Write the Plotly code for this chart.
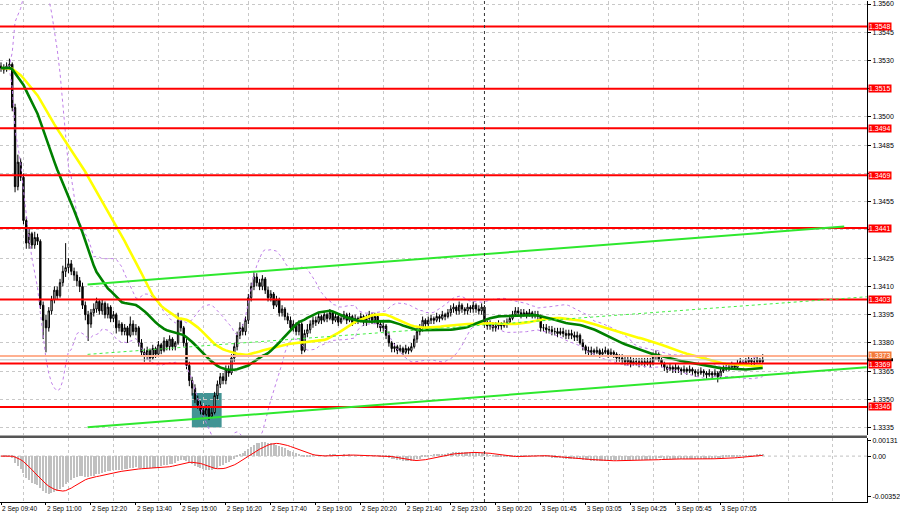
import numpy as np
import pandas as pd
import plotly.graph_objects as go

# ---------------- data (prices stored as pips above 1.3300) ----------------
BASE = 1.3300
first_open_pips = 227
close_pips = [
    226,225,227,228,205,163,176,168,145,133,
    138,132,136,134,100,92,88,97,103,108,
    105,112,118,120,122,118,116,113,110,100,
    95,90,96,98,102,97,101,95,99,93,
    95,88,90,86,88,84,90,86,88,80,
    75,73,76,72,77,74,79,76,81,78,
    82,78,80,92,88,80,68,60,56,50,
    47,44,42,45,41,43,52,58,62,60,
    66,64,72,78,84,88,86,92,104,110,
    115,112,110,114,108,104,106,100,103,96,
    98,94,92,88,90,86,90,76,85,87,
    90,92,91,94,92,95,93,96,92,94,
    91,93,95,92,94,91,93,92,94,91,
    93,95,92,94,90,88,89,84,80,77,
    78,76,77,75,77,76,78,82,86,88,
    92,90,92,93,92,94,93,95,94,96,
    98,99,97,100,98,97,99,98,100,98,
    97,99,91,89,90,88,89,90,89,90,
    91,93,95,97,96,95,96,95,96,95,
    95,94,88,88,87,87,86,86,85,86,
    85,84,85,84,83,84,80,78,76,75,
    76,75,76,74,75,76,74,75,74,72,
    72,71,70,71,69,70,70,69,70,69,
    70,69,73,74,71,69,67,66,67,66,
    67,66,65,66,65,66,65,64,64,65,
    64,63,64,63,64,62,65,66,67,67,
    68,67,69,70,69,70,71,70,70,71,
    70,71,
]
high_pips = [
    229,228,229,231,229,207,180,178,170,147,
    141,139,139,138,135,102,95,99,105,110,
    110,114,121,133,125,124,120,118,115,112,
    102,97,98,101,104,103,103,102,101,100,
    97,96,92,91,90,89,94,92,90,89,
    82,77,78,77,79,78,81,80,83,82,
    84,83,81,96,93,89,82,70,62,58,
    52,49,46,47,47,46,54,60,64,64,
    68,68,74,80,86,91,90,94,106,112,
    118,117,114,116,115,110,108,107,105,104,
    100,99,96,94,92,91,92,91,87,90,
    92,94,94,96,95,97,96,98,97,96,
    95,95,97,96,96,95,95,94,96,95,
    95,97,96,96,95,92,91,90,86,81,
    80,79,79,78,79,78,80,84,88,90,
    94,93,94,95,94,96,95,97,96,98,
    100,101,100,102,101,99,101,100,102,101,
    100,101,100,92,92,91,91,92,91,92,
    93,95,97,99,99,98,98,97,98,97,
    97,97,95,90,90,89,89,88,88,88,
    88,87,87,87,86,86,85,82,79,78,
    78,77,78,77,77,78,77,77,76,75,
    74,74,73,73,73,72,72,72,72,72,
    72,72,75,76,75,72,70,68,69,68,
    69,68,67,68,67,68,67,66,66,67,
    66,65,66,65,66,65,67,68,69,69,
    70,69,71,72,71,72,73,72,72,73,
    72,74,
]
low_pips = [
    224,223,224,225,203,160,161,166,143,130,
    130,130,130,132,98,82,75,86,95,101,
    103,104,110,115,117,116,113,110,107,98,
    92,81,88,94,96,95,95,93,93,91,
    91,85,86,84,84,80,83,84,84,78,
    73,70,71,70,71,72,73,74,75,76,
    76,76,76,79,86,78,66,57,52,48,
    45,42,40,41,39,40,42,50,56,58,
    58,62,63,70,76,82,84,84,90,102,
    108,110,108,108,106,102,102,98,99,94,
    94,92,90,86,86,84,84,74,75,83,
    85,88,89,90,90,91,91,92,90,91,
    89,90,92,90,91,89,90,90,91,89,
    89,91,90,90,88,86,86,82,78,75,
    75,74,75,73,74,74,75,77,80,84,
    86,88,88,90,90,91,91,92,92,93,
    94,96,95,95,96,95,95,96,96,96,
    95,95,90,87,87,86,86,87,87,88,
    88,90,92,94,94,93,94,93,94,93,
    93,92,86,86,85,85,84,84,83,84,
    83,82,82,82,81,81,79,76,74,73,
    73,73,74,72,73,74,72,73,72,70,
    70,69,68,68,67,68,68,67,68,67,
    68,67,68,71,70,67,65,64,65,64,
    64,64,63,64,63,64,63,62,62,63,
    62,61,62,61,62,59,61,64,65,65,
    66,66,66,68,68,68,69,68,68,69,
    69,69,
]

time_labels = ["2 Sep 09:40", "2 Sep 11:00", "2 Sep 12:20", "2 Sep 13:40", "2 Sep 15:00",
               "2 Sep 16:20", "2 Sep 17:40", "2 Sep 19:00", "2 Sep 20:20", "2 Sep 21:40",
               "2 Sep 23:00", "3 Sep 00:20", "3 Sep 01:45", "3 Sep 03:05", "3 Sep 04:25",
               "3 Sep 05:45", "3 Sep 07:05"]
label_bars = [0, 16, 32, 48, 64, 80, 96, 112, 128, 144, 160, 176, 192, 208, 224, 240, 256]
day_separator_bar = 172

price_ticks = [1.3335, 1.3350, 1.3365, 1.3380, 1.3395, 1.3410, 1.3425, 1.3440, 1.3455,
               1.3470, 1.3485, 1.3500, 1.3515, 1.3530, 1.3545, 1.3560]
hidden_price_ticks = [1.3440, 1.3470, 1.3515]   # covered by the level tags in the original
red_levels = [1.3548, 1.3515, 1.3494, 1.3469, 1.3441, 1.3403, 1.3369, 1.3346]
salmon_level = 1.3373
bid_level = 1.3371
macd_ticks = [0.00131, 0.0, -0.00352]
macd_ticktext = ["0.00131", "0.00", "-0.00352"]

# drawn objects (bar index, price)
upper_channel = {"bars": [30.8, 300.0], "prices": [1.3411, 1.34418]}
lower_channel = {"bars": [30.8, 308.0], "prices": [1.33352, 1.33671]}
mid_channel = {"bars": [30.8, 308.0], "prices": [1.33739, 1.34045]}
box_bars = [67.9, 78.5]
box_prices = [1.3335, 1.33534]

# ---------------- derived series ----------------
c = BASE + np.array(close_pips) / 1e4
h = BASE + np.array(high_pips) / 1e4
l = BASE + np.array(low_pips) / 1e4
o = np.r_[BASE + first_open_pips / 1e4, c[:-1]]
idx = np.arange(len(c))


def warm(s, n):
    # indicator warm-up: history before the window is held at the first value
    return pd.Series(np.r_[np.full(n - 1, s[0]), s])


def sma(s, n):
    return warm(s, n).rolling(n).mean().values[n - 1:]


def sstd(s, n):
    return warm(s, n).rolling(n).std(ddof=0).values[n - 1:]


ma_green = sma(c, 30)
ma_yellow = sma(c, 50)
bb_mid = sma(c, 20)
bb_sd = sstd(c, 20)
bb_up = bb_mid + 2 * bb_sd
bb_dn = bb_mid - 2 * bb_sd
ema12 = pd.Series(c).ewm(span=12, adjust=False).mean().values
ema26 = pd.Series(c).ewm(span=26, adjust=False).mean().values
macd = ema12 - ema26
signal = sma(macd, 9)

# ---------------- figure ----------------
FONT = "Liberation Sans"
xr = [-0.354, 308.1]
main_dom = [(502 - 435) / 502, 1.0]
macd_dom = [0.0, (502 - 438) / 502]

fig = go.Figure()

fig.add_trace(go.Candlestick(
    x=idx, open=o, high=h, low=l, close=c,
    increasing=dict(fillcolor="white", line=dict(color="black", width=1)),
    decreasing=dict(fillcolor="black", line=dict(color="black", width=1)),
    whiskerwidth=0, xaxis="x", yaxis="y", showlegend=False, hoverinfo="skip"))

for band in (bb_up, bb_dn):
    fig.add_trace(go.Scatter(x=idx, y=band, mode="lines",
                             line=dict(color="#bf7fe8", width=1, dash="dot"),
                             xaxis="x", yaxis="y", showlegend=False, hoverinfo="skip"))
fig.add_trace(go.Scatter(x=idx, y=ma_yellow, mode="lines", line=dict(color="#ffff00", width=2.6),
                         xaxis="x", yaxis="y", showlegend=False, hoverinfo="skip"))
fig.add_trace(go.Scatter(x=idx, y=ma_green, mode="lines", line=dict(color="#008000", width=2.6),
                         xaxis="x", yaxis="y", showlegend=False, hoverinfo="skip"))

fig.add_trace(go.Bar(x=idx, y=macd, marker=dict(color="#c0c0c0", line=dict(width=0)), width=0.45,
                     xaxis="x2", yaxis="y2", showlegend=False, hoverinfo="skip"))
fig.add_trace(go.Scatter(x=idx, y=signal, mode="lines", line=dict(color="#ff0000", width=1),
                         xaxis="x2", yaxis="y2", showlegend=False, hoverinfo="skip"))

shapes = []
# teal box (behind candles)
shapes.append(dict(type="rect", xref="x", yref="y", x0=box_bars[0], x1=box_bars[1],
                   y0=box_prices[0], y1=box_prices[1], fillcolor="rgb(66,148,148)",
                   line=dict(width=0), layer="below"))
# horizontal levels
shapes.append(dict(type="line", xref="paper", yref="y", x0=0, x1=1, y0=bid_level, y1=bid_level,
                   line=dict(color="#c0c0c0", width=1), layer="above"))
shapes.append(dict(type="line", xref="paper", yref="y", x0=0, x1=1, y0=salmon_level, y1=salmon_level,
                   line=dict(color="#ffb090", width=2), layer="above"))
for lv in red_levels:
    shapes.append(dict(type="line", xref="paper", yref="y", x0=0, x1=1, y0=lv, y1=lv,
                       line=dict(color="#ff0000", width=2), layer="above"))
# bid marker (mostly covered by neighbouring tags in the original)
shapes.append(dict(type="line", xref="paper", yref="y", x0=1.001, x1=1.03, y0=bid_level, y1=bid_level,
                   line=dict(color="black", width=3), layer="above"))
# channel lines
for tl in (upper_channel, lower_channel):
    shapes.append(dict(type="line", xref="x", yref="y", x0=tl["bars"][0], x1=tl["bars"][1],
                       y0=tl["prices"][0], y1=tl["prices"][1],
                       line=dict(color="#2ee82e", width=2), layer="above"))
shapes.append(dict(type="line", xref="x", yref="y", x0=mid_channel["bars"][0], x1=mid_channel["bars"][1],
                   y0=mid_channel["prices"][0], y1=mid_channel["prices"][1],
                   line=dict(color="#44ee44", width=1, dash="dot"), layer="above"))
# day separator
shapes.append(dict(type="line", xref="x", yref="paper", x0=day_separator_bar, x1=day_separator_bar,
                   y0=0, y1=1, line=dict(color="#333333", width=1, dash="dot"), layer="above"))
# MACD zero line
shapes.append(dict(type="line", xref="paper", yref="y2", x0=0, x1=1, y0=0, y1=0,
                   line=dict(color="#c0c0c0", width=1, dash="dot"), layer="below"))
# panel separator
sep_y = (502 - 436.5) / 502
shapes.append(dict(type="line", xref="paper", yref="paper", x0=0, x1=1, y0=sep_y, y1=sep_y,
                   line=dict(color="#555555", width=2.5), layer="above"))

annotations = []


def tag(y, text, bg, fg="white", yshift=0):
    annotations.append(dict(xref="paper", yref="y", x=1, y=y, xanchor="left", yanchor="middle",
                            xshift=1, yshift=yshift, text=text, showarrow=False, bgcolor=bg,
                            borderpad=0, font=dict(family=FONT, size=7, color=fg)))


tag(salmon_level, f"{salmon_level:.4f}", "#f47a3c", yshift=1)
for lv in red_levels:
    tag(lv, f"{lv:.4f}", "#ff0000", yshift=-1 if lv == 1.3369 else 0)

price_ticktext = ["" if any(abs(v - hv) < 1e-9 for hv in hidden_price_ticks) else f"{v:.4f}"
                  for v in price_ticks]

grid_minor = dict(tick0=8, dtick=16, showgrid=True, gridcolor="#c8c8c8", griddash="dot", gridwidth=1)

fig.update_layout(
    width=900, height=517, margin=dict(l=0, r=29, t=0, b=15),
    paper_bgcolor="white", plot_bgcolor="white", bargap=0,
    font=dict(family=FONT, size=7, color="black"),
    xaxis=dict(domain=[0, 1], range=xr, anchor="y", showticklabels=False, showgrid=False,
               zeroline=False, rangeslider=dict(visible=False), minor=grid_minor, fixedrange=True),
    xaxis2=dict(domain=[0, 1], range=xr, anchor="y2", matches="x", tickmode="array",
                tickvals=label_bars, ticktext=time_labels, ticklabelposition="outside right",
                ticks="outside", ticklen=2, tickcolor="black", showgrid=False, zeroline=False,
                showline=True, linecolor="black", linewidth=1, minor=grid_minor,
                tickfont=dict(family=FONT, size=6.5, color="black")),
    yaxis=dict(domain=main_dom, range=[1.33310, 1.35616], side="right", tickmode="array",
               tickvals=price_ticks, ticktext=price_ticktext,
               showgrid=True, gridcolor="#c8c8c8", griddash="dot", gridwidth=1, zeroline=False,
               showline=True, linecolor="black", linewidth=1, ticks="outside", ticklen=3,
               tickcolor="black", tickfont=dict(family=FONT, size=7, color="black"), anchor="x"),
    yaxis2=dict(domain=macd_dom, range=[-0.003967, 0.001553], side="right", tickmode="array",
                tickvals=macd_ticks, ticktext=macd_ticktext, showgrid=False, zeroline=False,
                showline=True, linecolor="black", linewidth=1, ticks="outside", ticklen=3,
                tickcolor="black", tickfont=dict(family=FONT, size=7, color="black"), anchor="x2"),
    shapes=shapes, annotations=annotations,
)

fig.write_html("out.html", config={"displayModeBar": False},
               post_script="document.body.style.margin='0px';document.body.style.overflow='hidden';")
